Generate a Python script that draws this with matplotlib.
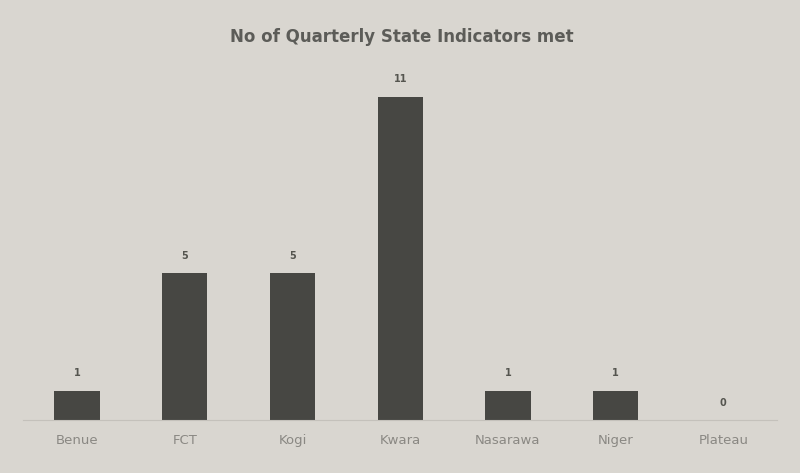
import matplotlib.pyplot as plt

states = ['Benue', 'FCT', 'Kogi', 'Kwara', 'Nasarawa', 'Niger', 'Plateau']
indicators_met = [1, 5, 5, 11, 1, 1, 0]

bg = '#d9d6d0'
bar_col = '#474743'

fig = plt.figure(figsize=(8, 4.73), dpi=100, facecolor=bg)
ax = fig.add_axes([0.029, 0.112, 0.9425, 0.777], facecolor=bg)

x = range(len(states))
bars = ax.bar(x, indicators_met, width=0.42, color=bar_col)
for rect, v in zip(bars, indicators_met):
    ax.annotate(str(v), xy=(rect.get_x() + rect.get_width() / 2, rect.get_height()),
                xytext=(0, 9), textcoords='offset points', ha='center', va='bottom',
                fontsize=7, fontweight='bold', color='#55554f')

ax.set_xlim(-0.5, len(states) - 0.5)
ax.set_ylim(0, 12.5)
ax.set_xticks(list(x))
ax.set_xticklabels(states, fontsize=9.5, color='#8a8883')
ax.tick_params(axis='x', length=0, pad=10)
ax.set_yticks([])
for s in ['top', 'right', 'left']:
    ax.spines[s].set_visible(False)
ax.spines['bottom'].set_color('#c4c1bb')

fig.text(0.502, 0.922, 'No of Quarterly State Indicators met', ha='center', va='center',
         fontsize=12, fontweight='bold', color='#5c5c58')

fig.savefig('out.png', dpi=100, facecolor=bg)
